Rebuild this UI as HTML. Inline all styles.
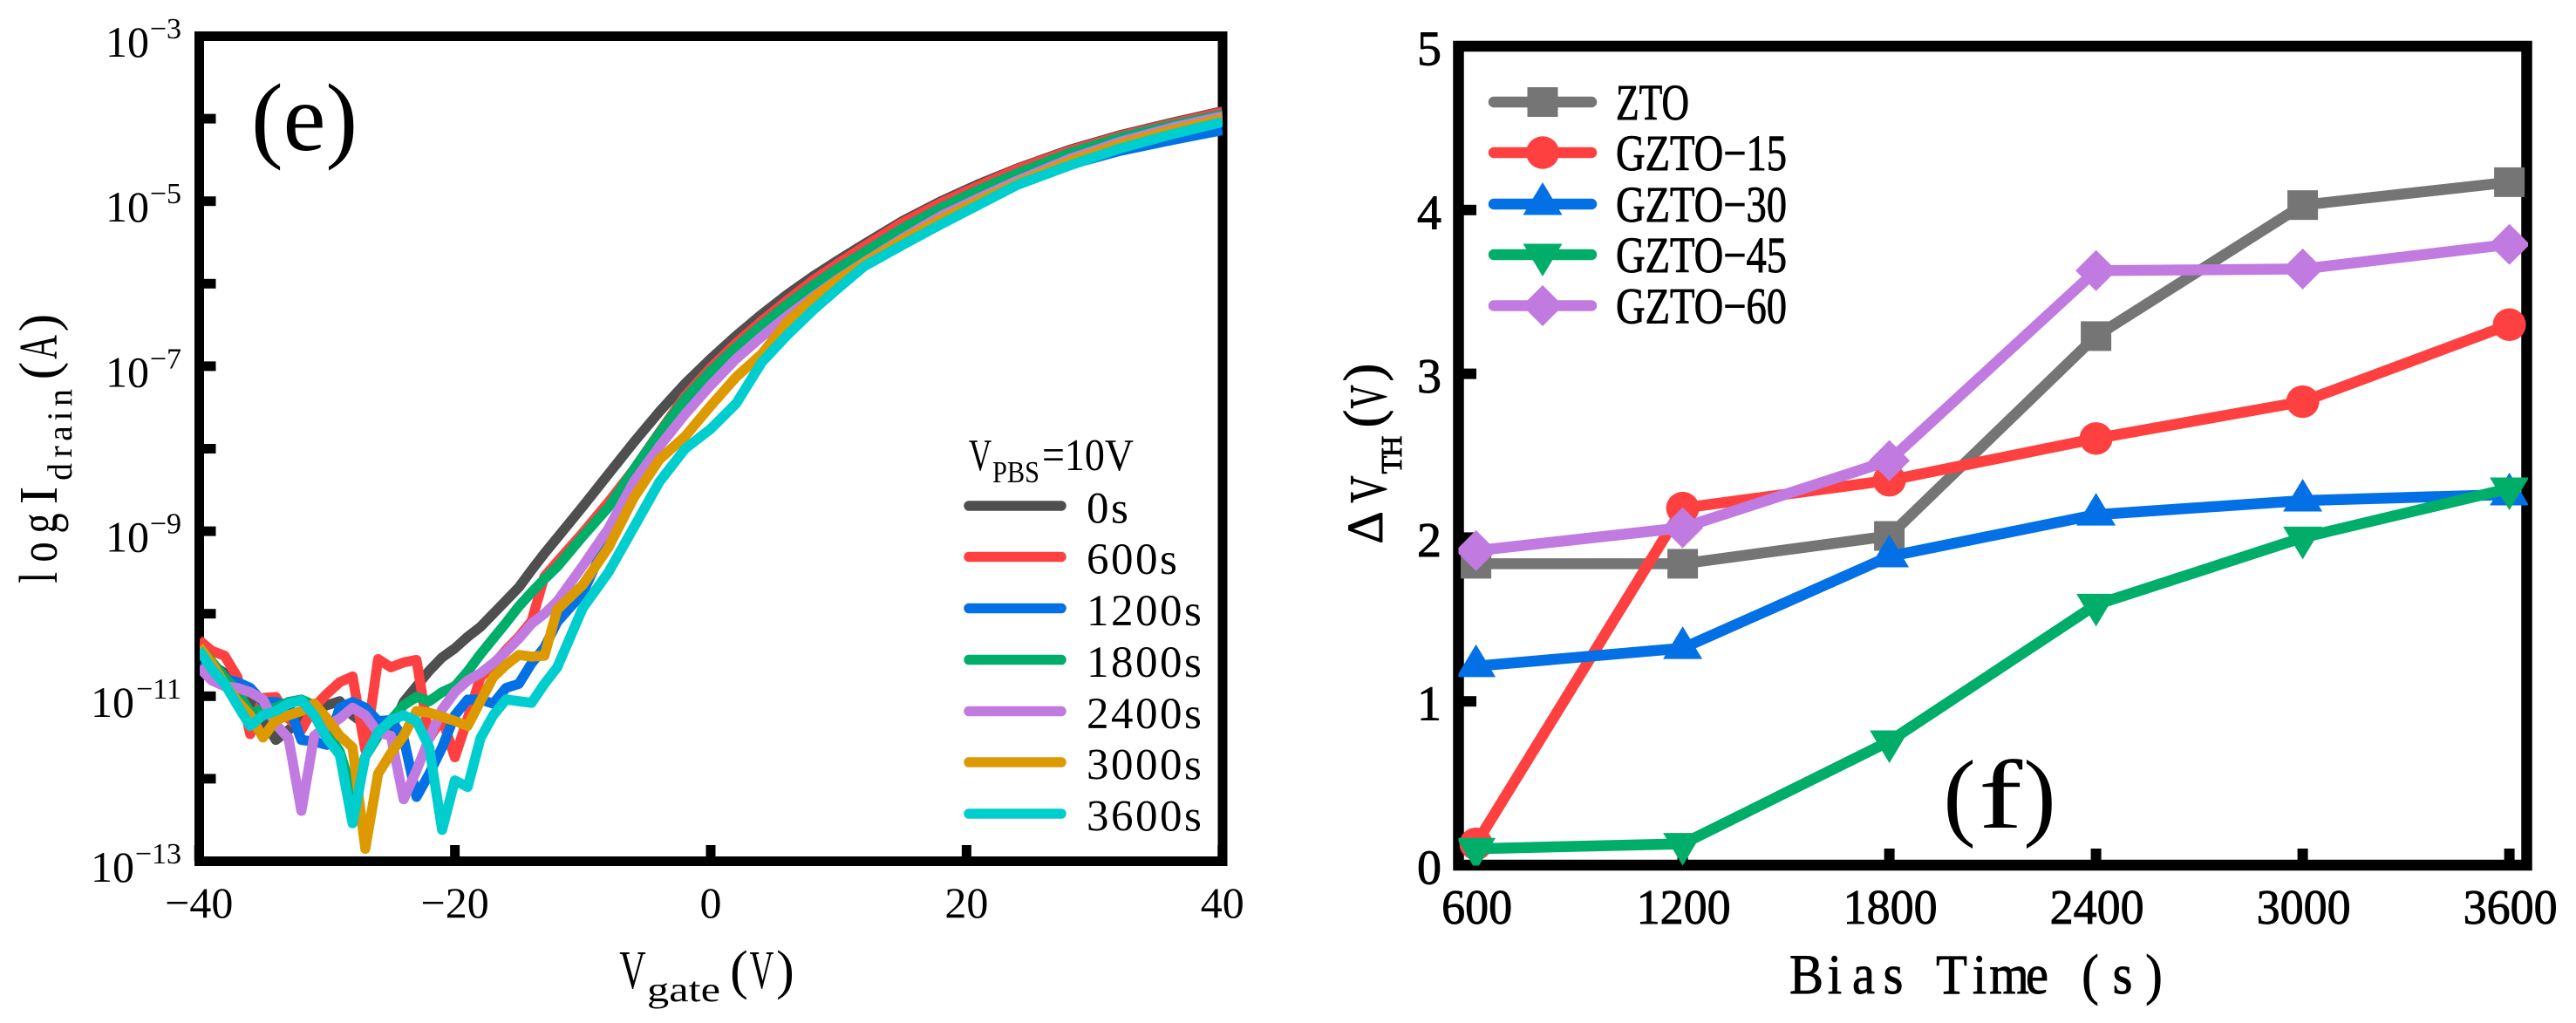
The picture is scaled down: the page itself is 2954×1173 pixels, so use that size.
<!DOCTYPE html>
<html>
<head>
<meta charset="utf-8">
<title>Transfer curves and threshold voltage shift</title>
<style>
html,body{margin:0;padding:0;background:#fff;}
svg{display:block;}
text{font-family:"Liberation Serif","Noto Serif CJK SC",serif;fill:#000;}
.heavy{stroke:#000;stroke-width:.9px;}
</style>
</head>
<body>
<svg id="figure" xmlns="http://www.w3.org/2000/svg" width="2954" height="1173" viewBox="0 0 2954 1173">
  <defs>
    <clipPath id="clip-e"><rect x="229" y="41.5" width="1173" height="946"/></clipPath>
    <clipPath id="clip-f"><rect x="1672.5" y="53" width="1226.5" height="939.5"/></clipPath>
  </defs>
  <rect x="0" y="0" width="2954" height="1173" fill="#ffffff"/>

  <g id="panel-e">
    <g id="e-axes"></g>
    <g id="e-series" clip-path="url(#clip-e)"></g>
    <text x="288" y="172" font-size="110">(e)</text>
    <g>
      <text transform="translate(65,0) rotate(-90) scale(.75,1)" y="0" x="-883 -844 -800" text-anchor="middle" font-size="62">log</text>
      <text transform="translate(65,0) rotate(-90)" y="0" x="-568" text-anchor="middle" font-size="62">I</text>
      <text transform="translate(82,0) rotate(-90)" y="0" x="-541 -518 -497 -477 -456" text-anchor="middle" font-size="40">drain</text>
      <text transform="translate(65,0) rotate(-90)" y="0" x="-425" text-anchor="middle" font-size="62">(</text>
      <text transform="translate(65,398) rotate(-90) scale(.62,1)" text-anchor="middle" font-size="62">A</text>
      <text transform="translate(65,0) rotate(-90)" y="0" x="-370" text-anchor="middle" font-size="62">)</text>
    </g>
    <g>
      <text transform="translate(725.5,1133) scale(.68,1)" text-anchor="middle" font-size="62">V</text>
      <text x="742" y="1148" font-size="40" textLength="84" lengthAdjust="spacingAndGlyphs">gate</text>
      <text x="847.5" y="1133" text-anchor="middle" font-size="62">(</text>
      <text transform="translate(873.5,1133) scale(.62,1)" text-anchor="middle" font-size="62">V</text>
      <text x="900.5" y="1133" text-anchor="middle" font-size="62">)</text>
    </g>
    <g>
      <text transform="translate(1124,539) scale(.7,1)" text-anchor="middle" font-size="52">V</text>
      <text x="1138" y="553" font-size="35" textLength="54" lengthAdjust="spacingAndGlyphs">PBS</text>
      <text x="1195" y="539" font-size="52" textLength="105" lengthAdjust="spacingAndGlyphs">=10V</text>
    </g>
    <g id="e-legend"></g>
  </g>

  <g id="panel-f">
    <g id="f-axes"></g>
    <g id="f-series" clip-path="url(#clip-f)"></g>
    <g>
      <text x="2247" y="949" text-anchor="middle" font-size="112">(</text>
      <text transform="translate(2294,949) scale(1.35,1)" text-anchor="middle" font-size="112">f</text>
      <text x="2339" y="949" text-anchor="middle" font-size="112">)</text>
    </g>
    <g class="heavy">
      <text transform="translate(1585,605) rotate(-90)" text-anchor="middle" font-size="58">Δ</text>
      <text transform="translate(1589,561) rotate(-90) scale(.72,1)" text-anchor="middle" font-size="60">V</text>
      <text transform="translate(1607,0) rotate(-90)" y="0" x="-533 -512" text-anchor="middle" font-size="34">TH</text>
      <text transform="translate(1584,0) rotate(-90)" y="0" x="-480" text-anchor="middle" font-size="62">(</text>
      <text transform="translate(1589,455) rotate(-90) scale(.62,1)" text-anchor="middle" font-size="60">V</text>
      <text transform="translate(1584,0) rotate(-90)" y="0" x="-427" text-anchor="middle" font-size="62">)</text>
    </g>
    <text class="heavy" transform="scale(.9,1)" y="1139" x="2301.7 2337.8 2374.4 2412.2 2450 2486.7 2522.2 2560 2595.6 2630 2663.3 2704.4 2744.4" text-anchor="middle" font-size="65">Bias Time (s)</text>
    <g id="f-legend"></g>
  </g>
</svg>

<script>
// ---------- Panel (e): transfer curves ----------
const vgate = [-40,-39,-38,-37,-36,-35,-34,-33,-32,-31,-30,-29,-28,-27,-26,-25,-24,-23,-22,-21,-20,-19,-18,-17,-16,-15,-14,-13,-12,
  -10,-8,-6,-4,-2,0,2,4,6,8,10,12,15,18,21,24,28,32,36,40];
const logI0s = [-10.46,-10.62,-10.72,-10.85,-11.02,-11.27,-11.53,-11.41,-11.29,-11.16,-11.11,-11.06,-11.23,-11.34,-11.44,-11.41,-11.07,-10.88,-10.69,-10.53,-10.42,-10.28,-10.16,-10.0,-9.84,-9.68,-9.47,-9.27,-9.08,
  -8.70,-8.31,-7.92,-7.55,-7.21,-6.91,-6.63,-6.37,-6.13,-5.91,-5.71,-5.52,-5.24,-5.00,-4.79,-4.60,-4.38,-4.20,-4.05,-3.91];
const logI600s = [-10.32,-10.45,-10.51,-10.77,-11.46,-11.02,-11.01,-11.27,-11.41,-11.13,-10.97,-10.83,-10.76,-11.65,-10.55,-10.65,-10.59,-10.56,-11.51,-11.27,-11.74,-11.27,-10.77,-10.62,-10.44,-10.28,-10.09,-9.55,-9.37,
  -9.02,-8.65,-8.25,-7.80,-7.36,-7.02,-6.72,-6.45,-6.20,-5.96,-5.75,-5.55,-5.26,-5.02,-4.81,-4.61,-4.39,-4.21,-4.06,-3.92];
const logI1200s = [-10.63,-10.72,-10.79,-10.83,-10.90,-11.07,-11.07,-11.11,-11.53,-11.55,-11.59,-11.14,-11.07,-11.14,-11.30,-11.29,-11.51,-12.22,-11.94,-11.62,-11.23,-11.04,-11.04,-11.09,-10.90,-10.85,-10.60,-10.41,-10.10,
  -9.75,-9.08,-8.45,-7.93,-7.52,-7.14,-6.80,-6.51,-6.27,-6.04,-5.83,-5.64,-5.37,-5.13,-4.94,-4.77,-4.56,-4.39,-4.26,-4.14];
const logI1800s = [-10.40,-10.58,-10.77,-10.95,-11.20,-11.16,-11.14,-11.07,-11.04,-11.11,-11.44,-11.67,-12.18,-11.73,-11.48,-11.29,-11.11,-11.01,-11.06,-10.95,-10.88,-10.70,-10.49,-10.30,-10.11,-9.91,-9.74,-9.58,-9.43,
  -9.06,-8.71,-8.25,-7.81,-7.39,-7.06,-6.77,-6.50,-6.25,-6.02,-5.81,-5.62,-5.33,-5.08,-4.86,-4.66,-4.42,-4.23,-4.08,-3.95];
const logI2400s = [-10.65,-10.81,-10.88,-10.90,-10.95,-11.04,-11.34,-11.51,-12.39,-11.48,-11.36,-11.27,-11.14,-11.23,-11.44,-11.48,-12.25,-11.90,-11.51,-11.16,-10.95,-10.81,-10.72,-10.60,-10.46,-10.30,-10.12,-10.00,-9.85,
  -9.42,-8.97,-8.40,-7.97,-7.58,-7.23,-6.91,-6.64,-6.39,-6.16,-5.94,-5.74,-5.45,-5.18,-4.96,-4.75,-4.49,-4.28,-4.11,-3.97];
const logI3000s = [-10.40,-10.60,-10.85,-11.06,-11.23,-11.50,-11.29,-11.23,-11.18,-11.09,-11.27,-11.48,-11.62,-12.85,-11.94,-11.69,-11.48,-11.18,-11.20,-11.25,-11.30,-11.36,-11.06,-10.77,-10.62,-10.50,-10.52,-10.51,-9.95,
  -9.65,-9.20,-8.59,-8.13,-7.85,-7.48,-7.13,-6.85,-6.46,-6.18,-5.95,-5.75,-5.47,-5.22,-4.99,-4.78,-4.52,-4.31,-4.14,-4.00];
const logI3600s = [-10.44,-10.67,-10.85,-11.11,-11.36,-11.23,-11.18,-11.09,-11.05,-11.23,-11.51,-11.71,-12.54,-11.73,-11.44,-11.29,-11.23,-11.30,-11.62,-12.62,-12.02,-12.10,-11.51,-11.23,-11.04,-11.06,-11.08,-10.85,-10.65,
  -9.93,-9.50,-8.95,-8.40,-8.00,-7.76,-7.45,-6.95,-6.62,-6.32,-6.05,-5.79,-5.53,-5.28,-5.04,-4.80,-4.57,-4.36,-4.19,-4.04];
const eSeriesNames = ["0s","600s","1200s","1800s","2400s","3000s","3600s"];
const eColors = ["#4f4f4f","#ff4040","#0370e6","#00ae69","#c17ae0","#dc9a00","#00cdce"];
const eXTicks = [-40,-20,0,20,40];
const eYTickExps = [-3,-4,-5,-6,-7,-8,-9,-10,-11,-12,-13];
const eYLabelExps = [-3,-5,-7,-9,-11,-13];

// ---------- Panel (f): threshold shift ----------
const biasTimes = [600,1200,1800,2400,3000,3600];
const dvthZTO = [1.84,1.84,2.01,3.23,4.03,4.17];
const dvth15 = [0.13,2.18,2.35,2.605,2.83,3.30];
const dvth30 = [1.215,1.325,1.885,2.14,2.226,2.263];
const dvth45 = [0.10,0.13,0.756,1.59,2.00,2.30];
const dvth60 = [1.92,2.06,2.47,3.63,3.64,3.79];
const fSeriesNames = ["ZTO","GZTO−15","GZTO−30","GZTO−45","GZTO−60"];
const fColors = ["#757575","#ff4040","#0370e6","#00ae69","#c17ae0"];
const fMarkers = ["square","circle","triangle-up","triangle-down","diamond"];
const fYTicks = [0,1,2,3,4,5];

const NS = "http://www.w3.org/2000/svg";
function make(tag, parent, attrs, txt){
  const el = document.createElementNS(NS, tag);
  for (const k in attrs) el.setAttribute(k, attrs[k]);
  if (txt !== undefined) el.textContent = txt;
  parent.appendChild(el);
  return el;
}
function exX(v){ return 815 + v * (1402 - 228.5) / 80; }
function eyY(log){ return 41.5 + (-3 - log) * 94.6; }
function fxX(t){ return 1692.6 + (t - 600) * 0.395; }
function fyY(v){ return 992 - v * 187.8; }

// ---- panel e axes
const eAxes = document.getElementById("e-axes");
const eFrame = make("rect", eAxes, {x:228.5,y:41.5,width:1173.5,height:946,fill:"none",stroke:"#000","stroke-width":11});


eYTickExps.forEach(function(e){
  const t = make("rect", eAxes, {x:228.5,y:eyY(e)-5.5,width:19,height:11,fill:"#000"});
  
  
});
eYLabelExps.forEach(function(e){
  const y = eyY(e);
  const supText = "−" + Math.abs(e);
  const supWidth = Math.abs(e) >= 10 ? 53 : 36;
  const base = make("text", eAxes, {x:208-supWidth-1,y:y+23.5,"text-anchor":"end","font-size":50}, "10");
  
  
  const sup = make("text", eAxes, {x:208,y:y+2.5,"text-anchor":"end","font-size":34}, supText);
  
  
});
eXTicks.forEach(function(v){
  const x = exX(v);
  const t = make("rect", eAxes, {x:x-5.5,y:969,width:11,height:18,fill:"#000"});
  
  
  const label = make("text", eAxes, {x:x,y:1052,"text-anchor":"middle","font-size":50}, (v < 0 ? "−" : "") + Math.abs(v));
  
  
});

// ---- panel e series
const eSeriesData = [logI0s,logI600s,logI1200s,logI1800s,logI2400s,logI3000s,logI3600s];
const eSeriesGroup = document.getElementById("e-series");
eSeriesData.forEach(function(vals, i){
  const pts = vals.map(function(v, j){ return exX(vgate[j]).toFixed(1) + "," + eyY(v).toFixed(1); }).join(" ");
  const line = make("polyline", eSeriesGroup, {points:pts,fill:"none",stroke:eColors[i],"stroke-width":11.5,"stroke-linejoin":"round","stroke-linecap":"butt"});
  
  
});

// ---- panel e legend
const eLegend = document.getElementById("e-legend");
const eLegendYs = [580,638.5,697.5,756.5,815.5,874,933];
eSeriesNames.forEach(function(name, i){
  const y = eLegendYs[i];
  const sw = make("line", eLegend, {x1:1111,x2:1217,y1:y,y2:y,stroke:eColors[i],"stroke-width":11.5,"stroke-linecap":"round"});
  
  
  const tx = make("text", eLegend, {x:1246,y:y+19.5,"font-size":51,"letter-spacing":2.5}, name);
  
  
});

// ---- panel f axes
const fAxes = document.getElementById("f-axes");
const fFrame = make("rect", fAxes, {x:1672.5,y:53,width:1225,height:939,fill:"none",stroke:"#000","stroke-width":12.5});


fYTicks.forEach(function(v){
  const y = fyY(v);
  if (v > 0 && v < 5) {
    const t = make("rect", fAxes, {x:1672.5,y:y-6,width:20.5,height:12,fill:"#000"});
    
    
  }
  const label = make("text", fAxes, {x:1639,y:y+21.5,"text-anchor":"middle","font-size":56,"class":"heavy"}, String(v));
  
  
});
biasTimes.forEach(function(t0){
  const x = fxX(t0);
  const t = make("rect", fAxes, {x:x-6,y:973,width:12,height:19,fill:"#000"});
  
  
  const s = String(t0);
  const label = make("text", fAxes, {x:x+1,y:1059,"text-anchor":"middle","font-size":56,"class":"heavy",textLength:s.length*27,lengthAdjust:"spacingAndGlyphs"}, s);
  
  
});

function drawMarker(parent, kind, x, y, color){
  let m;
  if (kind === "square") {
    m = make("rect", parent, {x:x-17.5,y:y-17,width:35,height:34,fill:color});
  } else if (kind === "circle") {
    m = make("ellipse", parent, {cx:x,cy:y,rx:19,ry:18.7,fill:color});
  } else if (kind === "triangle-up") {
    m = make("polygon", parent, {points:(x)+","+(y-25)+" "+(x+22.5)+","+(y+12.5)+" "+(x-22.5)+","+(y+12.5),fill:color});
  } else if (kind === "triangle-down") {
    m = make("polygon", parent, {points:(x)+","+(y+25)+" "+(x+22.5)+","+(y-12.5)+" "+(x-22.5)+","+(y-12.5),fill:color});
  } else {
    m = make("polygon", parent, {points:(x)+","+(y-23.5)+" "+(x+23.5)+","+(y)+" "+(x)+","+(y+23.5)+" "+(x-23.5)+","+(y),fill:color});
  }
  return m;
}

// ---- panel f series
const fSeriesData = [dvthZTO,dvth15,dvth30,dvth45,dvth60];
const fSeriesGroup = document.getElementById("f-series");
fSeriesData.forEach(function(vals, i){
  const pts = vals.map(function(v, j){ return fxX(biasTimes[j]).toFixed(1) + "," + fyY(v).toFixed(1); }).join(" ");
  const line = make("polyline", fSeriesGroup, {points:pts,fill:"none",stroke:fColors[i],"stroke-width":12.5,"stroke-linejoin":"round"});
  
  
  vals.forEach(function(v, j){
    const m = drawMarker(fSeriesGroup, fMarkers[i], fxX(biasTimes[j]), fyY(v), fColors[i]);
    
    
  });
});

// ---- panel f legend
const fLegend = document.getElementById("f-legend");
const fLegendYs = [117,175,234,292,350.5];
fSeriesNames.forEach(function(name, i){
  const y = fLegendYs[i];
  const sw = make("line", fLegend, {x1:1713,x2:1825,y1:y,y2:y,stroke:fColors[i],"stroke-width":12.5,"stroke-linecap":"round"});
  
  
  const mk = drawMarker(fLegend, fMarkers[i], 1769, y, fColors[i]);
  
  
  const tx = make("text", fLegend, {x:1853,y:y+20,"font-size":58,"class":"heavy",textLength:name.length*28,lengthAdjust:"spacingAndGlyphs"}, name);
  
  
});
</script>
</body>
</html>
